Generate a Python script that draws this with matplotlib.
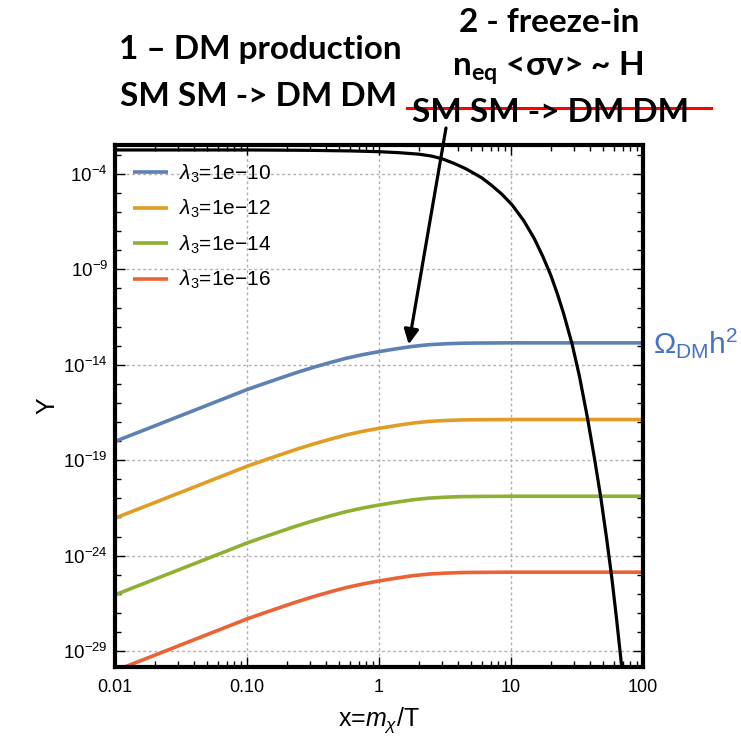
import numpy as np
import matplotlib
matplotlib.use("Agg")
import matplotlib.pyplot as plt
from matplotlib.lines import Line2D
from matplotlib.ticker import FixedLocator, NullFormatter

plt.rcParams['font.family'] = ['Liberation Sans', 'DejaVu Sans']
plt.rcParams['mathtext.fontset'] = 'custom'
plt.rcParams['mathtext.rm'] = 'Liberation Sans'
plt.rcParams['mathtext.it'] = 'Liberation Sans:italic'
plt.rcParams['mathtext.bf'] = 'Lato:bold'

# x = m_chi / T
x_pts = [0.01, 0.0133, 0.0178, 0.0237, 0.0316, 0.0422, 0.0562, 0.075, 0.1, 0.133, 0.178, 0.237, 0.316,
         0.422, 0.562, 0.75, 1, 1.33, 1.78, 2.37, 3.16, 4.22, 5.62, 10, 100]
# log10(Y)
logY_l10 = [-18.02, -17.68, -17.34, -17.00, -16.66, -16.32, -15.98, -15.64, -15.30, -15.00, -14.70, -14.41, -14.14,
            -13.89, -13.66, -13.47, -13.31, -13.17, -13.04, -12.95, -12.90, -12.87, -12.86, -12.85, -12.85]
logY_l12 = [-22.04, -21.70, -21.36, -21.02, -20.68, -20.34, -20.00, -19.66, -19.32, -19.02, -18.72, -18.43, -18.16,
            -17.91, -17.68, -17.49, -17.33, -17.19, -17.06, -16.97, -16.92, -16.89, -16.88, -16.87, -16.87]
logY_l14 = [-26.06, -25.72, -25.38, -25.04, -24.70, -24.36, -24.02, -23.68, -23.34, -23.04, -22.74, -22.45, -22.18,
            -21.93, -21.70, -21.51, -21.35, -21.21, -21.08, -20.99, -20.94, -20.91, -20.90, -20.89, -20.89]
logY_l16 = [-30.04, -29.70, -29.36, -29.02, -28.68, -28.34, -28.00, -27.66, -27.32, -27.02, -26.72, -26.43, -26.16,
            -25.91, -25.68, -25.49, -25.33, -25.19, -25.06, -24.97, -24.92, -24.89, -24.88, -24.87, -24.87]

# equilibrium curve
x_eq = [0.01, 0.1, 0.3, 0.6, 1, 1.4, 2, 2.5, 3, 3.75, 4.5, 5.2, 6, 7, 8.5, 10.2, 12.5, 15, 17.5, 20,
        22.5, 25, 29, 33, 38, 43, 48, 53, 58, 63, 69, 75]
logY_eq = [-2.74, -2.74, -2.76, -2.79, -2.83, -2.88, -2.96, -3.06, -3.2, -3.46, -3.71, -3.95, -4.2, -4.55, -5.05,
           -5.62, -6.45, -7.38, -8.35, -9.3, -10.3, -11.3, -12.9, -14.6, -16.8, -18.95, -21.0, -23.1, -25.15,
           -27.3, -29.84, -32.3]

labels = [r'$\lambda_3$=1e$-$10', r'$\lambda_3$=1e$-$12', r'$\lambda_3$=1e$-$14', r'$\lambda_3$=1e$-$16']
colors = ['#5E81B5', '#E19C24', '#8FB032', '#EB6235']

x_ticks = [0.01, 0.1, 1, 10, 100]
x_ticklabels = ['0.01', '0.10', '1', '10', '100']
y_ticks = [1e-4, 1e-9, 1e-14, 1e-19, 1e-24, 1e-29]
y_ticklabels = [r'$\mathregular{10^{-4}}$', r'$\mathregular{10^{-9}}$', r'$\mathregular{10^{-14}}$',
                r'$\mathregular{10^{-19}}$', r'$\mathregular{10^{-24}}$', r'$\mathregular{10^{-29}}$']

fig = plt.figure(figsize=(7.41, 7.39), dpi=100)
W, H = 741, 739
ax = fig.add_axes([115 / W, (H - 667) / H, (643 - 115) / W, (667 - 145) / H])

for ly, lab, c in zip([logY_l10, logY_l12, logY_l14, logY_l16], labels, colors):
    ax.plot(x_pts, 10.0 ** np.array(ly), color=c, lw=2.6, label=lab, solid_capstyle='butt')
ax.plot(x_eq, 10.0 ** np.array(logY_eq), color='black', lw=2.3)

ax.set_xscale('log')
ax.set_yscale('log')
ax.set_xlim(0.01, 100)
ax.set_ylim(10 ** -29.84, 10 ** -2.48)

ax.xaxis.set_major_locator(FixedLocator(x_ticks))
ax.set_xticklabels(x_ticklabels)
minx = [m * 10.0 ** k for k in range(-2, 2) for m in range(2, 10)]
ax.xaxis.set_minor_locator(FixedLocator(minx))
ax.xaxis.set_minor_formatter(NullFormatter())
ax.yaxis.set_major_locator(FixedLocator(y_ticks))
ax.set_yticklabels(y_ticklabels)
miny = [10.0 ** k for k in range(-30, -2) if 10.0 ** k not in y_ticks]
ax.yaxis.set_minor_locator(FixedLocator(miny))
ax.yaxis.set_minor_formatter(NullFormatter())

ax.tick_params(which='both', direction='in', top=True, right=True, width=1.0, color='black')
ax.tick_params(which='major', length=7, labelsize=13)
ax.tick_params(which='minor', length=4)
ax.tick_params(axis='x', pad=9)
ax.tick_params(axis='y', pad=5, labelsize=13.5)
ax.grid(True, which='major', color='#b0b0b0', ls=(0, (2, 2)), lw=1.0)
for s in ax.spines.values():
    s.set_linewidth(3.0)

ax.set_xlabel(r'x=$m_\chi$/T', fontsize=18, labelpad=6)
ax.set_ylabel('Y', fontsize=18, labelpad=3)

ax.legend(loc='upper left', frameon=False, fontsize=15, handlelength=1.7, labelspacing=0.63,
          handletextpad=0.5, borderaxespad=0.55, borderpad=0.3, bbox_to_anchor=(0.0, 1.0))

# annotations above the plot
tkw = dict(fontsize=24, fontweight='bold', family=['Lato', 'DejaVu Sans'], ha='center', va='center')
fig.text(260 / W, 1 - 50 / H, '1 \u2013 DM production', **tkw)
fig.text(259 / W, 1 - 97 / H, 'SM SM -> DM DM', **tkw)
fig.text(549 / W, 1 - 22 / H, '2 - freeze-in', **tkw)
fig.text(548 / W, 1 - 68 / H, 'n$_{\\mathbf{eq}}$ <\u03c3v> ~ H', **tkw)
fig.text(550 / W, 1 - 112 / H, 'SM SM -> DM DM', **tkw)
fig.add_artist(Line2D([407 / W, 711 / W], [1 - 108 / H, 1 - 108 / H], color='#ff0000', lw=2.2))

ax.annotate('', xy=(1.68, 10 ** -12.93), xycoords='data',
            xytext=(446 / W, 1 - 128 / H), textcoords='figure fraction',
            arrowprops=dict(arrowstyle='-|>', color='black', lw=2.3, mutation_scale=22, shrinkA=0, shrinkB=0),
            annotation_clip=False)

fig.text(653 / W, 1 - 343 / H, r'$\mathregular{\Omega_{DM}h^2}$', fontsize=21.5, color='#4472C4',
         ha='left', va='center')

fig.savefig('out.png', dpi=100)
